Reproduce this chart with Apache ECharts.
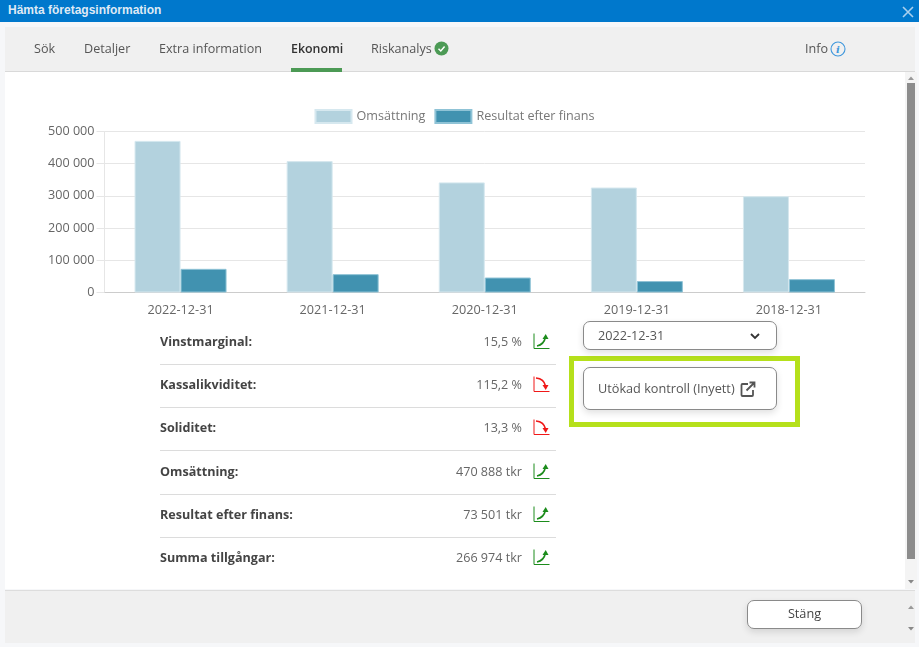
<!DOCTYPE html>
<html lang="sv"><head><meta charset="utf-8"><title>Hämta företagsinformation</title>
<script src="https://cdn.jsdelivr.net/npm/echarts@6/dist/echarts.min.js"></script>
<style>
html,body{margin:0;padding:0;width:919px;height:647px;overflow:hidden;background:#f6f7f9;font-family:"Open Sans",sans-serif;color:#555}
.a{position:absolute;white-space:nowrap}
#head{left:0;top:0;width:919px;height:22px;background:#0078cc}
#title{left:8px;top:3px;font:bold 12px/15px "Liberation Sans",Arial,sans-serif;color:#dfeaf5}
#tabs{left:5px;top:27px;width:910px;height:44px;background:#f0f0f0;border-bottom:1px solid #d9d9d9}
.tab{top:40px;font-size:12.6px;line-height:17px;color:#555}
#body{left:5px;top:72px;width:900px;height:517px;background:#fff}
#foot{left:5px;top:590px;width:910px;height:53px;background:#f0f0f0;border-top:1px solid #ddd;box-sizing:border-box}
#chart{left:0;top:0;width:919px;height:647px}
.lab{left:160px;font-size:12.6px;font-weight:700;color:#444;line-height:18px}
.val{right:397px;font-size:12.6px;color:#666;line-height:18px}
.sep{left:160px;width:396px;height:1px;background:#dcdcdc}
.btn{box-sizing:border-box;background:#fff;border:1px solid #8a8a8a;border-radius:7px;box-shadow:0 3px 7px rgba(0,0,0,.12);font-size:12.7px;color:#555}
</style></head><body>
<div class="a" id="head"></div><div class="a" id="title">Hämta företagsinformation</div>
<svg class="a" style="left:902px;top:6px" width="12" height="12"><path d="M1 1L11 11M11 1L1 11" stroke="#a9d0ee" stroke-width="1.6"/></svg>
<div class="a" id="tabs"></div><div class="a" id="body"></div><div class="a" id="foot"></div>
<div class="a" style="left:291px;top:68px;width:51px;height:4px;background:#4c9a55"></div>
<svg class="a" style="left:434px;top:41px" width="15" height="15"><circle cx="7.5" cy="7.5" r="7" fill="#4c9a55"/><path d="M4.5 7.8L6.8 10L10.6 5.6" fill="none" stroke="#fff" stroke-width="1.5"/></svg>
<svg class="a" style="left:830px;top:41px" width="16" height="16"><circle cx="8" cy="8" r="7" fill="none" stroke="#3f97dc" stroke-width="1.1"/><text x="8" y="12" text-anchor="middle" font-family="DejaVu Serif" font-style="italic" font-size="10" font-weight="700" fill="#3f97dc">i</text></svg>
<div class="a" style="left:905px;top:72px;width:12px;height:517px;background:#f4f4f4"></div>
<div class="a" style="left:907px;top:83px;width:8px;height:476px;background:#8c8c8c"></div>
<svg class="a" style="left:905px;top:75px" width="12" height="6"><path d="M3 5L6 1.5L9 5Z" fill="#999"/></svg>
<svg class="a" style="left:905px;top:579px" width="12" height="6"><path d="M3 1L6 4.5L9 1Z" fill="#888"/></svg>
<svg class="a" style="left:905px;top:604px" width="12" height="6"><path d="M3 5L6 1.5L9 5Z" fill="#999"/></svg>
<svg class="a" style="left:905px;top:626px" width="12" height="6"><path d="M3 1L6 4.5L9 1Z" fill="#888"/></svg>
<div class="a" id="chart"></div>
<div class="a" style="left:569px;top:356px;width:231px;height:71px;box-sizing:border-box;border:5px solid #b5e01b"></div>
<div class="a btn" style="left:583px;top:367px;width:194px;height:43px;line-height:41px;padding-left:14px">Utökad kontroll (Inyett)
<svg style="position:absolute;left:156px;top:13px" width="16" height="16"><path d="M8 3H2.5A1 1 0 0 0 1.5 4V14A1 1 0 0 0 2.5 15H12A1 1 0 0 0 13 14V9" fill="none" stroke="#555" stroke-width="1.8"/><path d="M6.5 9.5L14 2M9.5 1.5H14.5V6.5" fill="none" stroke="#555" stroke-width="1.8"/></svg></div>
<div class="a btn" style="left:747px;top:600px;width:115px;height:29px;line-height:25px;text-align:center;font-size:12.7px;color:#444">Stäng</div>
<script>
const categories = ["2022-12-31","2021-12-31","2020-12-31","2019-12-31","2018-12-31"];
const omsattning = [470888,408000,342000,326000,299000];
const resultat = [73501,57000,46500,35500,41500];
const yTicks = [0,100000,200000,300000,400000,500000];
const tabLabels = [["Sök",34],["Detaljer",84],["Extra information",159],["Ekonomi",291],["Riskanalys",371],["Info",805]];
const rowLabels = ["Vinstmarginal:","Kassalikviditet:","Soliditet:","Omsättning:","Resultat efter finans:","Summa tillgångar:"];
const rowValues = ["15,5 %","115,2 %","13,3 %","470 888 tkr","73 501 tkr","266 974 tkr"];
const rowTrends = ["up","down","down","up","up","up"];
const rowCenters = [342,385,428,472,515,558];
const rowSeps = [364,407,450,494,537];

function el(cls,txt,css){const d=document.createElement('div');d.className='a '+cls;d.textContent=txt;d.style.cssText=css;document.body.appendChild(d);return d;}
tabLabels.forEach(t=>el('tab',t[0],`left:${t[1]}px;`+(t[0]==='Ekonomi'?'font-weight:600;font-size:12.4px;color:#333;':'')));
rowLabels.forEach((t,i)=>{
  el('lab',t,`top:${rowCenters[i]-9}px`);
  el('val',rowValues[i],`top:${rowCenters[i]-9}px`);
  const up=rowTrends[i]==='up',c=up?'#1c8c1c':'#f01818';
  const s=document.createElementNS('http://www.w3.org/2000/svg','svg');
  s.setAttribute('width','18');s.setAttribute('height','18');s.setAttribute('class','a');
  s.style.cssText=`left:533px;top:${rowCenters[i]-10}px`;
  s.innerHTML=up
   ?`<path d="M1 1.5V16.5H16.5" fill="none" stroke="${c}" stroke-width="1"/><path d="M4 14C9 13 11.5 10 12.5 5" fill="none" stroke="${c}" stroke-width="1.6"/><path d="M9.5 7L12.7 2L15.5 7Z" fill="${c}"/>`
   :`<path d="M1 1.5V16.5H16.5" fill="none" stroke="${c}" stroke-width="1"/><path d="M3 3C8 3.5 11.5 6 12.5 11" fill="none" stroke="${c}" stroke-width="1.6"/><path d="M9.5 10L12.7 15L15.5 10Z" fill="${c}"/>`;
  document.body.appendChild(s);
});
rowSeps.forEach(y=>el('sep','',`top:${y}px`));
const sel=el('btn','2022-12-31','left:583px;top:321px;width:194px;height:29px;line-height:26px;padding-left:14px;');
sel.innerHTML+='<svg style="position:absolute;left:165px;top:10px" width="12" height="8"><path d="M2 2L6 6L10 2" fill="none" stroke="#333" stroke-width="1.8"/></svg>';

const chart = echarts.init(document.getElementById('chart'),null,{renderer:'canvas',width:919,height:647});
const font='"Open Sans",sans-serif';
chart.setOption({
  backgroundColor:'transparent',animation:false,
  textStyle:{fontFamily:font},
  legend:{top:104,left:309.5,icon:'rect',itemWidth:36,itemHeight:13,itemGap:9,
    textStyle:{color:'#777',fontSize:12.6,fontFamily:font}},
  grid:{left:104.5,right:54,top:131.5,bottom:354.5,containLabel:false},
  xAxis:{type:'category',data:categories,
    axisLine:{lineStyle:{color:'#ccc'}},axisTick:{show:false},
    axisLabel:{color:'#666',fontSize:12.7,margin:11,fontFamily:font}},
  yAxis:{type:'value',min:0,max:500000,interval:100000,
    axisLine:{show:true,lineStyle:{color:'#e6e6e6'}},
    axisTick:{show:true,length:8,lineStyle:{color:'#e6e6e6'}},
    splitLine:{lineStyle:{color:'#e6e6e6'}},
    axisLabel:{color:'#666',fontSize:12.6,margin:10,fontFamily:font,
      customValues:yTicks,
      formatter:v=>String(v).replace(/\B(?=(\d{3})+$)/g,' ')}},
  series:[
    {name:'Omsättning',type:'bar',data:omsattning,barWidth:46,barGap:0,
      itemStyle:{color:'#b3d2de',borderColor:'#d6e8ef',borderWidth:1}},
    {name:'Resultat efter finans',type:'bar',data:resultat,barWidth:46,barGap:0,
      itemStyle:{color:'#4192b0',borderColor:'#8fc3d6',borderWidth:1}}
  ]
});
</script></body></html>
